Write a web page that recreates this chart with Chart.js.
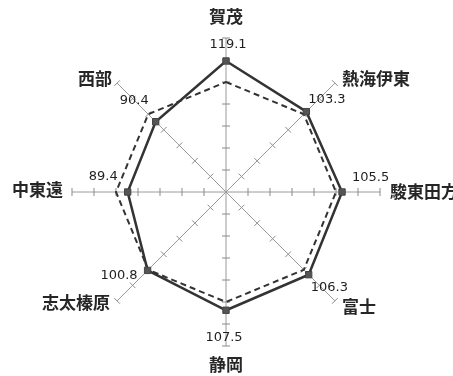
<!DOCTYPE html>
<html>
<head>
<meta charset="utf-8">
<script src="https://cdn.jsdelivr.net/npm/chart.js@4.4.0/dist/chart.umd.min.js"></script>
<style>
html, body { margin: 0; padding: 0; background: #fff; overflow: hidden; }
#wrap { width: 453px; height: 376px; }
</style>
</head>
<body>
<div id="wrap"><canvas id="radarChart" width="453" height="376"></canvas></div>
<script>
// areas, clockwise from the top
var areaNames = ["賀茂", "熱海伊東", "駿東田方", "富士", "静岡", "志太榛原", "中東遠", "西部"];
var areaValues = [119.1, 103.3, 105.5, 106.3, 107.5, 100.8, 89.4, 90.4];
// reference line (= 100)
var baseValues = [100, 100, 100, 100, 100, 100, 100, 100];
var axisTicks = [20, 40, 60, 80, 100, 120, 140];

// where the labels sit, relative to the axis end / the point
var nameOffsets = [[0, -21, "center"], [7, -5, "left"], [10, 0, "left"], [7, 6, "left"],
	[0, 19, "center"], [-7, 2, "right"], [-9, -2, "right"], [-5, -5, "right"]];
var valueOffsets = [[2, -16, "center"], [2, -12, "left"], [10, -14, "left"], [2, 13, "left"],
	[-2, 27, "center"], [-10, 5, "right"], [-10, -15, "right"], [-7, -21, "right"]];

//small ticks across each axis line
var axisTickPlugin = {
	id: "axisTicks",
	beforeDatasetsDraw: function(chart)
	{
		var r = chart.scales.r;
		var ctx = chart.ctx;
		ctx.save();
		ctx.strokeStyle = "#8a8a8a";
		ctx.lineWidth = 1;
		for (var i = 0; i < areaNames.length; i++)
		{
			var ang = r.getIndexAngle(i) - Math.PI / 2;
			var px = -Math.sin(ang), py = Math.cos(ang);
			for (var j = 0; j < axisTicks.length; j++)
			{
				var p = r.getPointPositionForValue(i, axisTicks[j]);
				ctx.beginPath();
				ctx.moveTo(p.x - px * 4, p.y - py * 4);
				ctx.lineTo(p.x + px * 4, p.y + py * 4);
				ctx.stroke();
			}
		}
		ctx.restore();
	}
};

//area names and values
var labelPlugin = {
	id: "radarLabels",
	afterDatasetsDraw: function(chart)
	{
		var r = chart.scales.r;
		var ctx = chart.ctx;
		ctx.save();
		ctx.textBaseline = "middle";
		for (var i = 0; i < areaNames.length; i++)
		{
			var e = r.getPointPositionForValue(i, r.max);
			ctx.fillStyle = "#262626";
			ctx.font = "bold 17px 'Noto Sans CJK JP'";
			ctx.textAlign = nameOffsets[i][2];
			ctx.fillText(areaNames[i], e.x + nameOffsets[i][0], e.y + nameOffsets[i][1]);

			var p = r.getPointPositionForValue(i, areaValues[i]);
			ctx.fillStyle = "#1f1f1f";
			ctx.font = "13px 'DejaVu Sans'";
			ctx.textAlign = valueOffsets[i][2];
			ctx.fillText(areaValues[i].toFixed(1), p.x + valueOffsets[i][0], p.y + valueOffsets[i][1]);
		}
		ctx.restore();
	}
};

new Chart("radarChart",
{
	type: "radar",
	data:
	{
		labels: areaNames,
		datasets: [
		{
			label: "指数",
			data: areaValues,
			borderColor: "#333",
			borderWidth: 2.5,
			pointStyle: "rect",
			pointRadius: 4.5,
			pointBackgroundColor: "#555",
			pointBorderColor: "#444",
			pointBorderWidth: 1,
			fill: false
		},
		{
			label: "基準",
			data: baseValues,
			borderColor: "#333",
			borderWidth: 2,
			borderDash: [6, 4],
			pointRadius: 0,
			fill: false
		}]
	},
	options:
	{
		responsive: false,
		animation: false,
		layout: {padding: {top: 38, bottom: 30, left: 72, right: 73}},
		plugins: {legend: {display: false}, tooltip: {enabled: false}},
		scales:
		{
			r:
			{
				min: 0,
				max: 140,
				grid: {display: false},
				angleLines: {display: true, color: "#9a9a9a", lineWidth: 1},
				ticks: {display: false, stepSize: 20},
				pointLabels: {display: false}
			}
		}
	},
	plugins: [axisTickPlugin, labelPlugin]
});
</script>
</body>
</html>
